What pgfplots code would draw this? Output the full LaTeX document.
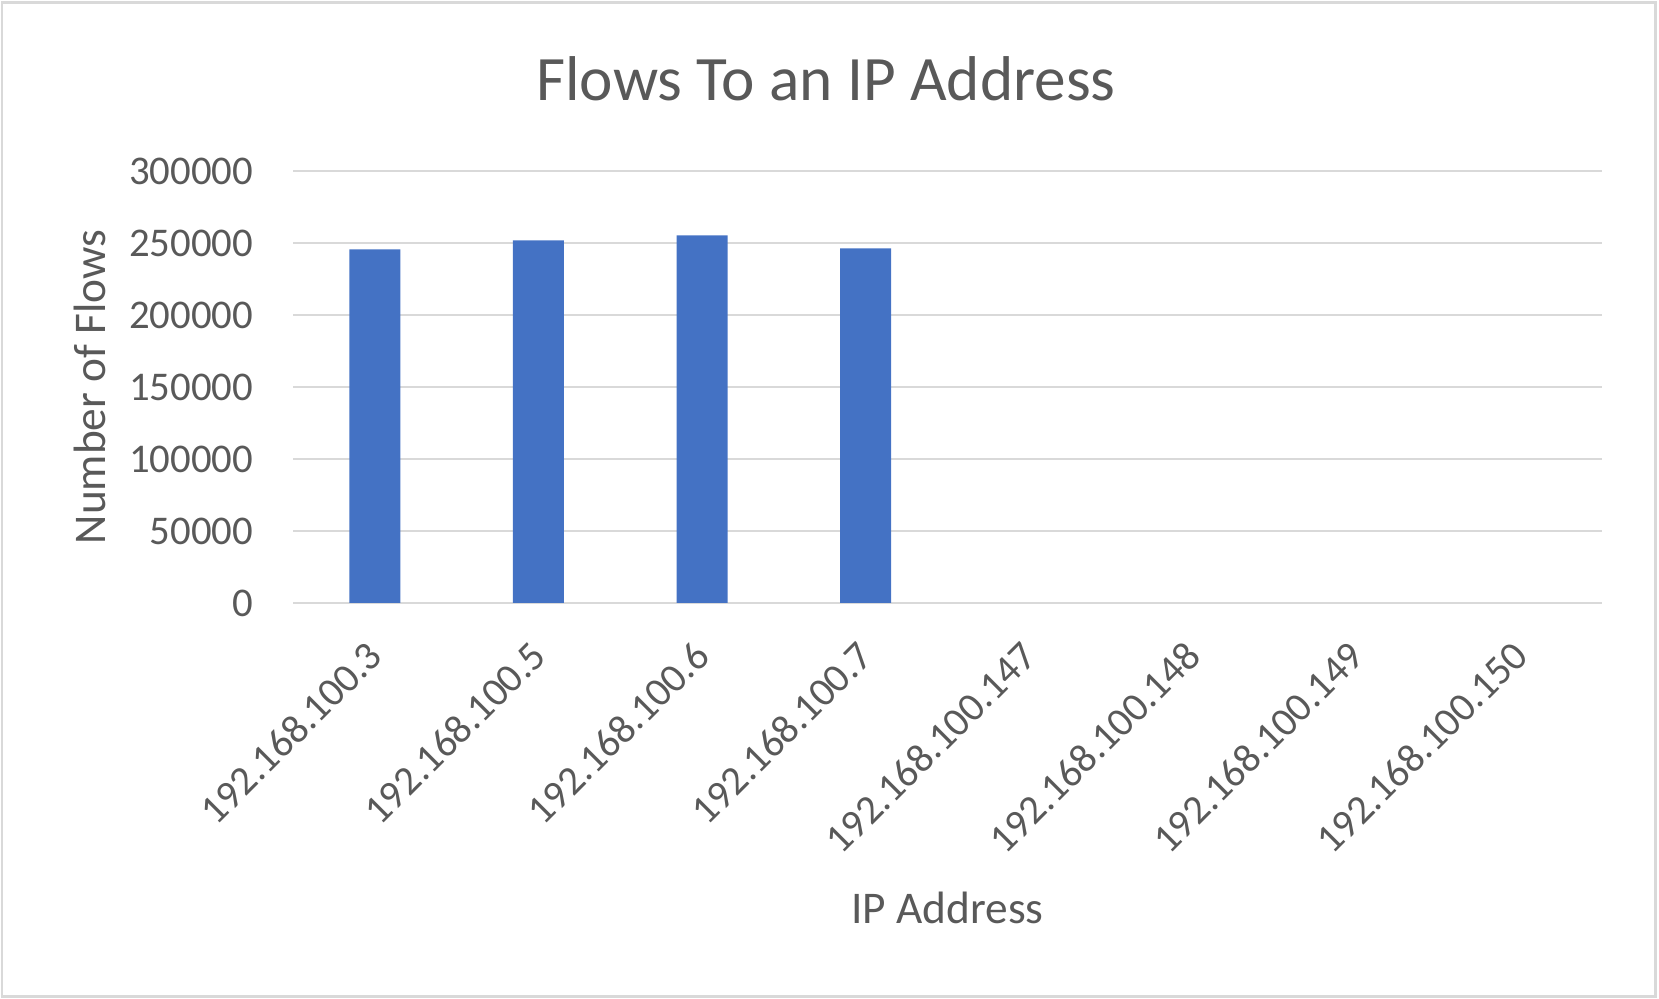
\documentclass[border=0pt]{standalone}
\usepackage{pgfplots}
\pgfplotsset{compat=1.18}
\usepackage{fontspec}
\setmainfont{Carlito}
\definecolor{txt}{HTML}{595959}
\definecolor{gridc}{HTML}{D9D9D9}
\definecolor{barc}{HTML}{4472C4}
\begin{document}
\begin{tikzpicture}
\path[use as bounding box] (0,0) rectangle (165.9mm,99.9mm);
\draw[gridc, line width=0.3mm] (0.2mm,0.2mm) rectangle (165.5mm,99.6mm);
\node[text=txt, font=\fontsize{18}{22}\selectfont] at (82.6mm,92.0mm) {Flows To an IP Address};
\begin{axis}[
  at={(29.3mm,39.6mm)}, anchor=south west,
  scale only axis, width=130.9mm, height=43.2mm,
  xmin=-0.5, xmax=7.5, ymin=0, ymax=300000,
  enlargelimits=false,
  ybar, bar width=5.1mm,
  axis line style={draw=none},
  tick style={draw=none},
  ymajorgrids, grid style={gridc, line width=0.7pt},
  ytick={0,50000,100000,150000,200000,250000,300000},
  yticklabels={0,50000,100000,150000,200000,250000,300000},
  scaled y ticks=false,
  yticklabel style={text=txt, font=\fontsize{11.6}{14}\selectfont, anchor=east, inner sep=0pt, xshift=-3.9mm},
  xtick={0,1,2,3,4,5,6,7},
  xticklabels={192.168.100.3,192.168.100.5,192.168.100.6,192.168.100.7,192.168.100.147,192.168.100.148,192.168.100.149,192.168.100.150},
  xticklabel style={text=txt, font=\fontsize{11.6}{14}\selectfont, rotate=45, anchor=north east, inner sep=0pt, xshift=-0.7mm, yshift=0.7mm},
  xticklabel shift=2.0mm,
  xlabel={IP Address},
  xlabel style={text=txt, font=\fontsize{12.9}{15}\selectfont, at={(axis description cs:0.5,0)}, anchor=center, yshift=-30.5mm},
  ylabel={Number of Flows},
  ylabel style={text=txt, font=\fontsize{12.9}{15}\selectfont, at={(axis description cs:-0.155,0.5)}, anchor=center},
]
\addplot[fill=barc, draw=none] coordinates {(0,245600) (1,251850) (2,255300) (3,246300)};
\end{axis}
\end{tikzpicture}
\end{document}
